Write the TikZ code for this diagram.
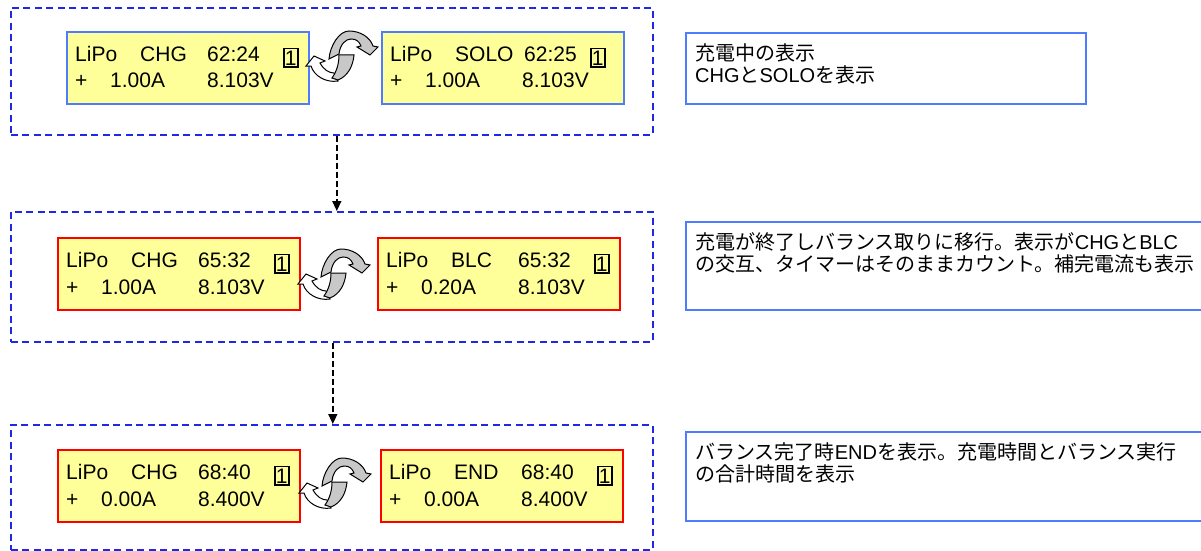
\documentclass[tikz,border=0pt]{standalone}
\usepackage{fontspec}
\setmainfont{Liberation Sans}
\newfontfamily\jpfont{Noto Sans CJK JP}
\usetikzlibrary{arrows.meta, positioning, calc}
\definecolor{stageblue}{RGB}{30, 40, 230}
\definecolor{lcdblue}{RGB}{77, 124, 254}
\definecolor{lcdred}{RGB}{255, 0, 0}
\definecolor{lcdyellow}{RGB}{255, 255, 153}
\definecolor{cyclegray}{RGB}{200, 200, 200}
\newcommand{\jp}[1]{{\jpfont #1}}

\tikzset{
  stagebox/.style={draw=stageblue, dash pattern=on 7pt off 4.5pt, line width=1.6pt,
    anchor=north west, inner sep=0pt, minimum width=642pt},
  lcdbox/.style={fill=lcdyellow, line width=1.6pt, minimum width=242pt,
    minimum height=72pt, inner sep=0pt, anchor=north west},
  lcdtext/.style={anchor=base west, inner sep=0pt, font=\fontsize{21}{25}\selectfont},
  chanbox/.style={lcdtext, draw=black, line width=1.5pt, inner xsep=1.2pt, inner ysep=2pt},
  notebox/.style={draw=lcdblue, line width=1.6pt, inner sep=0pt, anchor=north west},
  notetext/.style={anchor=base west, inner sep=0pt, font=\fontsize{20}{22}\selectfont},
  flowarrow/.style={draw=black, dash pattern=on 6pt off 3pt, line width=1.5pt,
    -{Triangle[width=9pt, length=10pt]}},
  cyclearrows/.pic={
    \begin{scope}[yscale=-1, line width=1pt]
      % white arrow, lower left
      \filldraw[fill=white] (-4,-25) .. controls (-16,-27) and (-28,-20) .. (-31,-10)
        -- (-36,-10) -- (-28,0) -- (-17,-5) -- (-22,-7)
        .. controls (-18,-14) and (-13,-17) .. (-8,-17) -- cycle;
      % gray arrow, upper part
      \filldraw[fill=cyclegray] (-13,-3) .. controls (-12,10) and (-3,25) .. (7,25)
        .. controls (18,25) and (28,19) .. (31,10) -- (36,9) -- (28,1) -- (15,9) -- (19,10)
        .. controls (17,15) and (14,17) .. (9,17) .. controls (4,17) and (-2,12) .. (-3,2) -- cycle;
      % gray arrow, twisted lower band
      \filldraw[fill=cyclegray] (-3,1) -- (12,1) .. controls (11,-10) and (6,-20) .. (-4,-24)
        -- (-10,-22) .. controls (-5,-15) and (-3,-7) .. (-3,1) -- cycle;
    \end{scope}
  }
}

% name, corner, border, mode, time, current, voltage, time x, box x
\newcommand{\lcdpanel}[9]{
  \node[lcdbox, draw=#3] (#1) at (#2) {};
  \node[lcdtext] (#1-lipo) at ($(#1.north west)+(9,30.5)$) {LiPo};
  \node[lcdtext] (#1-mode) at ($(#1.north west)+(74,30.5)$) {#4};
  \node[lcdtext] (#1-time) at ($(#1.north west)+(#8,30.5)$) {#5};
  \node[chanbox] (#1-chan) at ($(#1.north west)+(#9,34)$) {1};
  \node[lcdtext] (#1-sign) at ($(#1.north west)+(9,57)$) {+};
  \node[lcdtext] (#1-amp) at ($(#1.north west)+(44,57)$) {#6};
  \node[lcdtext] (#1-volt) at ($(#1.north west)+(141,57)$) {#7};
}

\begin{document}
\begin{tikzpicture}[x=1pt, y=-1pt]
  \useasboundingbox (0,0) rectangle (1201,551);

  % dashed stage frames
  \node[stagebox, minimum height=127pt] (stage1) at (10,7) {};
  \node[stagebox, minimum height=130pt] (stage2) at (10,211) {};
  \node[stagebox, minimum height=125pt] (stage3) at (10,424) {};

  % charging
  \lcdpanel{chg1}{66,31}{lcdblue}{CHG}{62:24}{1.00A}{8.103V}{141}{217}
  \lcdpanel{solo1}{381,31}{lcdblue}{SOLO}{62:25}{1.00A}{8.103V}{143}{209}
  \pic at (342,56) {cyclearrows};

  % balancing
  \lcdpanel{chg2}{57,237}{lcdred}{CHG}{65:32}{1.00A}{8.103V}{141}{217}
  \lcdpanel{blc2}{377,237}{lcdred}{BLC}{65:32}{0.20A}{8.103V}{141}{217}
  \pic at (334,274) {cyclearrows};

  % end
  \lcdpanel{chg3}{57,449}{lcdred}{CHG}{68:40}{0.00A}{8.400V}{141}{217}
  \lcdpanel{end3}{380,449}{lcdred}{END}{68:40}{0.00A}{8.400V}{141}{217}
  \pic at (335,483) {cyclearrows};

  \draw[flowarrow] ([xshift=5pt]stage1.south) -- ([xshift=5pt]stage2.north);
  \draw[flowarrow] ([xshift=1pt]stage2.south) -- ([xshift=1pt]stage3.north);

  % notes
  \node[notebox, minimum width=400pt, minimum height=71pt] (note1) at (685,32) {};
  \node[notetext] (note1-a) at ($(note1.north west)+(10,28.5)$) {\jp{充電中の表示}};
  \node[notetext] (note1-b) at ($(note1.north west)+(10,50.5)$) {CHG\jp{と}SOLO\jp{を表示}};

  \node[notebox, minimum width=540pt, minimum height=88pt] (note2) at (685,221) {};
  \node[notetext] (note2-a) at ($(note2.north west)+(10,28.5)$) {\jp{充電が終了しバランス取りに移行。表示が}CHG\jp{と}BLC};
  \node[notetext] (note2-b) at ($(note2.north west)+(10,50.5)$) {\jp{の交互、タイマーはそのままカウント。補完電流も表示}};

  \node[notebox, minimum width=540pt, minimum height=89pt] (note3) at (685,431) {};
  \node[notetext] (note3-a) at ($(note3.north west)+(10,28.5)$) {\jp{バランス完了時}END\jp{を表示。充電時間とバランス実行}};
  \node[notetext] (note3-b) at ($(note3.north west)+(10,50.5)$) {\jp{の合計時間を表示}};
\end{tikzpicture}
\end{document}
